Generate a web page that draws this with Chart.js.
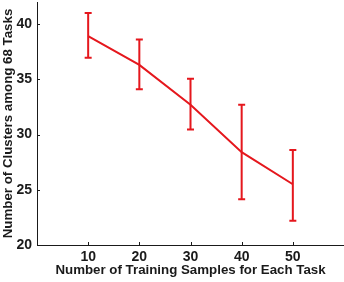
<!DOCTYPE html>
<html>
<head>
<meta charset="utf-8">
<script src="https://cdn.jsdelivr.net/npm/chart.js@4/dist/chart.umd.min.js"></script>
<style>
  html,body{margin:0;padding:0;background:#fff;}
  #wrap{width:344px;height:282px;}
</style>
</head>
<body>
<div id="wrap"><canvas id="clusters"></canvas></div>
<script>
  // samples per task vs. number of clusters (mean with error range)
  var sampleSizes  = [10, 20, 30, 40, 50];
  var meanClusters = [38.9, 36.3, 32.7, 28.4, 25.5];
  var lowClusters  = [36.95, 34.1, 30.45, 24.15, 22.2];
  var highClusters = [41.0, 38.6, 35.05, 32.7, 28.6];
  var xTickValues  = [10, 20, 30, 40, 50];
  var yTickValues  = [20, 25, 30, 35, 40];

  var red = '#e5171d';
  var ink = '#1a1a1a';
  var fontFam = '"Liberation Sans", Arial, sans-serif';

  // error bars + little inward ticks, drawn through the chart scales
  var errorBars = {
    id:'errorBars',
    afterDatasetsDraw:function(chart){
      var c = chart.ctx, xs = chart.scales.x, ys = chart.scales.y;
      c.save();
      c.strokeStyle = red; c.lineWidth = 2;
      for(var i=0;i<sampleSizes.length;i++){
        var px = xs.getPixelForValue(sampleSizes[i]);
        var top = ys.getPixelForValue(highClusters[i]);
        var bot = ys.getPixelForValue(lowClusters[i]);
        c.beginPath();
        c.moveTo(px, top); c.lineTo(px, bot);
        c.moveTo(px-3.5, top); c.lineTo(px+3.5, top);
        c.moveTo(px-3.5, bot); c.lineTo(px+3.5, bot);
        c.stroke();
      }
      c.strokeStyle = ink; c.lineWidth = 1;
      c.beginPath();
      xTickValues.forEach(function(v){
        var px = Math.round(xs.getPixelForValue(v))+0.5;
        c.moveTo(px, chart.chartArea.bottom); c.lineTo(px, chart.chartArea.bottom-3);
      });
      yTickValues.forEach(function(v){
        var py = Math.round(ys.getPixelForValue(v))+0.5;
        c.moveTo(chart.chartArea.left, py); c.lineTo(chart.chartArea.left+3, py);
      });
      c.stroke();
      c.restore();
    }
  };

  new Chart(document.getElementById('clusters'),{
    type:'line',
    data:{
      datasets:[{
        label:'Clusters',
        data: sampleSizes.map(function(x,i){ return {x:x, y:meanClusters[i]}; }),
        borderColor:red,
        borderWidth:2,
        pointRadius:0,
        tension:0,
        fill:false
      }]
    },
    options:{
      responsive:true,
      maintainAspectRatio:false,
      animation:false,
      layout:{padding:{top:2,right:0,left:0,bottom:0}},
      plugins:{legend:{display:false},tooltip:{enabled:false}},
      scales:{
        x:{
          type:'linear', min:0, max:60,
          afterBuildTicks:function(s){ s.ticks = xTickValues.map(function(v){ return {value:v}; }); },
          afterFit:function(s){ s.height = 37; s.paddingLeft = 0; s.paddingRight = 0; },
          grid:{display:true, drawOnChartArea:false, drawTicks:false},
          border:{display:true, color:ink, width:1},
          ticks:{color:ink, padding:4, font:{family:fontFam, size:14, weight:'bold'}},
          title:{display:true, text:'Number of Training Samples for Each Task', color:ink,
                 padding:{top:0,bottom:4}, font:{family:fontFam, size:13.3, weight:'bold'}}
        },
        y:{
          min:20, max:42,
          afterBuildTicks:function(s){ s.ticks = yTickValues.map(function(v){ return {value:v}; }); },
          afterFit:function(s){ s.width = 37; s.paddingTop = 0; s.paddingBottom = 0; },
          grid:{display:true, drawOnChartArea:false, drawTicks:false},
          border:{display:true, color:ink, width:1},
          ticks:{color:ink, padding:5, font:{family:fontFam, size:14, weight:'bold'}},
          title:{display:true, text:'Number of Clusters among 68 Tasks', color:ink,
                 padding:{top:0,bottom:0}, font:{family:fontFam, size:13.3, weight:'bold'}}
        }
      }
    },
    plugins:[errorBars]
  });
</script>
</body>
</html>
